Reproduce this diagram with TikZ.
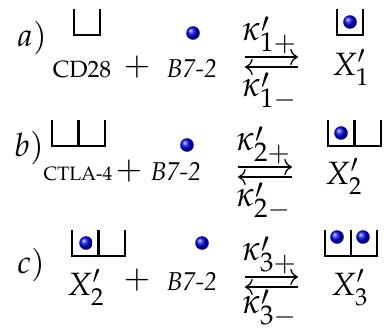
\documentclass[tikz,border=0pt]{standalone}
\usepackage[T1]{fontenc}
\usepackage{mathpazo}
\usetikzlibrary{arrows.meta}
\newcommand{\kprime}{\kappa^{\raisebox{-0.3ex}[0pt][0pt]{$\scriptstyle\prime$}}}
\tikzset{
  ligand/.style={circle, inner sep=0pt, minimum size=4.2pt, ball color=blue!90!black},
  lbl/.style={anchor=base, inner sep=0pt},
  rate/.style={lbl, font=\fontsize{11}{13}\selectfont},
  receptor/.pic={\draw[line width=0.65pt] (0,0) -- (0,26) -- (26,26) -- (26,0);},
  react/.style={line width=0.4pt, -{To[length=2.4pt]}},
}
\begin{document}
\begin{tikzpicture}[x=0.31pt, y=-0.31pt]
  \useasboundingbox (0,0) rectangle (386,327);
  % a) CD28 + B7-2
  \node[lbl] (tag-a) at (32,46) {$a)$};
  \pic at (74,9) {receptor};
  \node[lbl] (cd28) at (82,77) {\fontsize{7.3}{9}\selectfont CD28};
  \node[lbl] (plus-a) at (137,75) {$+$};
  \node[ligand] (lig-a) at (193,33) {};
  \node[lbl] (b72-a) at (192,77) {\fontsize{8}{9}\selectfont\textit{B7-2}};
  \coordinate (fa-l) at (245,57); \coordinate (fa-r) at (298,57);
  \coordinate (ra-l) at (245,67); \coordinate (ra-r) at (298,67);
  \draw[react] (fa-l) -- (fa-r);
  \draw[react] (ra-r) -- (ra-l);
  \node[rate] (kf-a) at (270,40) {$\kprime_{1+}$};
  \node[rate] (kr-a) at (270,96) {$\kprime_{1-}$};
  \pic at (337,9) {receptor};
  \node[ligand] (lig-xa) at (350,22) {};
  \node[lbl] (x-a) at (351,75) {$X'_1$};
  % b) CTLA-4 + B7-2
  \node[lbl] (tag-b) at (29,156) {$b)$};
  \foreach \dx in {0,27} {
    \pic at (52+\dx,120) {receptor};
  }
  \node[lbl] (ctla) at (78,180) {\fontsize{6}{7}\selectfont CTLA-4};
  \node[lbl] (plus-b) at (129,179) {$+$};
  \node[ligand] (lig-b) at (187,145) {};
  \node[lbl] (b72-b) at (176,180) {\fontsize{8}{9}\selectfont\textit{B7-2}};
  \coordinate (fb-l) at (238,167); \coordinate (fb-r) at (292,167);
  \coordinate (rb-l) at (238,177); \coordinate (rb-r) at (292,177);
  \draw[react] (fb-l) -- (fb-r);
  \draw[react] (rb-r) -- (rb-l);
  \node[rate] (kf-b) at (264,150) {$\kprime_{2+}$};
  \node[rate] (kr-b) at (264,206) {$\kprime_{2-}$};
  \foreach \dx in {0,27} {
    \pic at (328+\dx,120) {receptor};
  }
  \node[ligand] (lig-xb) at (341,133) {};
  \node[lbl] (x-b) at (344,184) {$X'_2$};
  % c) X'_2 + B7-2
  \node[lbl] (tag-c) at (31,273) {$c)$};
  \foreach \dx in {0,27} {
    \pic at (72+\dx,230) {receptor};
  }
  \node[ligand] (lig-c1) at (86,243) {};
  \node[lbl] (x-c1) at (86,295) {$X'_2$};
  \node[lbl] (plus-c) at (137,288) {$+$};
  \node[ligand] (lig-c) at (202,243) {};
  \node[lbl] (b72-c) at (192,290) {\fontsize{8}{9}\selectfont\textit{B7-2}};
  \coordinate (fc-l) at (245,277); \coordinate (fc-r) at (298,277);
  \coordinate (rc-l) at (245,287); \coordinate (rc-r) at (298,287);
  \draw[react] (fc-l) -- (fc-r);
  \draw[react] (rc-r) -- (rc-l);
  \node[rate] (kf-c) at (270,260) {$\kprime_{3+}$};
  \node[rate] (kr-c) at (270,313) {$\kprime_{3-}$};
  \foreach \dx in {0,26} {
    \pic at (325+\dx,230) {receptor};
  }
  \node[ligand] (lig-c2) at (337,237) {};
  \node[ligand] (lig-c3) at (363,237) {};
  \node[lbl] (x-c3) at (350,295) {$X'_3$};
\end{tikzpicture}
\end{document}
